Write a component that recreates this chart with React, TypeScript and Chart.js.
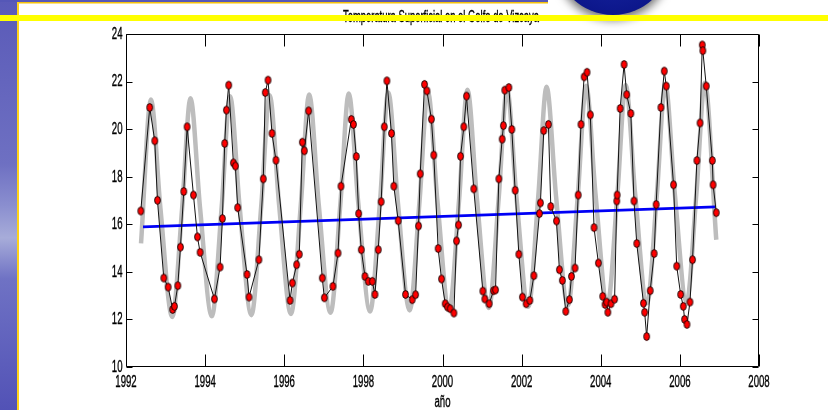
import { useEffect, useRef } from "react";
import { Chart, registerables } from "chart.js";
Chart.register(...registerables);

// Observed monthly sea-surface temperature (decimal year, °C)
const obsYear = [
  1992.374, 1992.6, 1992.727, 1992.795, 1992.955, 1993.065, 1993.18, 1993.225, 1993.31, 1993.376,
  1993.46, 1993.545, 1993.705, 1993.806, 1993.873, 1994.235, 1994.378, 1994.437, 1994.495, 1994.538,
  1994.596, 1994.715, 1994.765, 1994.823, 1995.06, 1995.11, 1995.36, 1995.47, 1995.52, 1995.59,
  1995.69, 1995.79, 1996.146, 1996.205, 1996.313, 1996.38, 1996.457, 1996.508, 1996.617, 1996.962,
  1997.013, 1997.23, 1997.36, 1997.434, 1997.695, 1997.75, 1997.82, 1997.88, 1997.947, 1998.04,
  1998.124, 1998.225, 1998.293, 1998.376, 1998.45, 1998.528, 1998.595, 1998.71, 1998.77, 1998.88,
  1999.066, 1999.235, 1999.32, 1999.394, 1999.437, 1999.546, 1999.606, 1999.72, 1999.78, 1999.89,
  1999.975, 2000.068, 2000.127, 2000.194, 2000.288, 2000.354, 2000.405, 2000.455, 2000.54, 2000.607,
  2000.79, 2001.02, 2001.07, 2001.18, 2001.29, 2001.34, 2001.424, 2001.508, 2001.54, 2001.575,
  2001.677, 2001.752, 2001.836, 2001.93, 2002.02, 2002.114, 2002.207, 2002.31, 2002.45, 2002.475,
  2002.56, 2002.677, 2002.737, 2002.88, 2002.955, 2003.03, 2003.116, 2003.207, 2003.26, 2003.35,
  2003.43, 2003.5, 2003.58, 2003.654, 2003.737, 2003.83, 2003.94, 2004.05, 2004.11, 2004.15,
  2004.18, 2004.26, 2004.35, 2004.405, 2004.415, 2004.49, 2004.59, 2004.656, 2004.76, 2004.84,
  2004.91, 2005.08, 2005.11, 2005.16, 2005.25, 2005.35, 2005.4, 2005.52, 2005.606, 2005.656,
  2005.84, 2005.92, 2006.02, 2006.086, 2006.12, 2006.18, 2006.255, 2006.32, 2006.43, 2006.51,
  2006.566, 2006.58, 2006.667, 2006.82, 2006.84, 2006.92,
];
const obsTemp = [
  16.56, 20.91, 19.51, 17.01, 13.74, 13.36, 12.42, 12.55, 13.42, 15.04,
  17.38, 20.1, 17.23, 15.47, 14.82, 12.86, 14.2, 16.24, 19.4, 20.8,
  21.85, 18.58, 18.45, 16.7, 13.89, 12.94, 14.51, 17.91, 21.54, 22.06,
  19.82, 18.69, 12.8, 13.53, 14.3, 14.74, 19.45, 19.09, 20.77, 13.74,
  12.91, 13.39, 14.79, 17.6, 20.41, 20.2, 18.85, 16.45, 14.93, 13.81,
  13.6, 13.6, 13.05, 14.93, 16.95, 20.1, 22.03, 19.82, 17.6, 16.15,
  13.05, 12.83, 13.04, 15.93, 18.12, 21.88, 21.61, 20.42, 18.91, 14.98,
  13.7, 12.66, 12.52, 12.45, 12.27, 15.3, 15.97, 18.86, 20.1, 21.39,
  17.49, 13.19, 12.86, 12.66, 13.21, 13.24, 17.91, 19.58, 20.15, 21.64,
  21.75, 19.99, 17.43, 14.74, 12.94, 12.66, 12.8, 13.84, 16.45, 16.9,
  19.94, 20.2, 16.75, 16.14, 14.09, 13.64, 12.34, 12.83, 13.81, 14.16,
  17.23, 20.2, 22.2, 22.39, 20.6, 15.86, 14.37, 12.97, 12.63, 12.73,
  12.3, 12.66, 12.85, 16.98, 17.23, 20.87, 22.72, 21.45, 20.66, 16.98,
  15.19, 12.68, 12.3, 11.28, 13.21, 14.77, 16.83, 20.91, 22.44, 21.81,
  17.66, 14.24, 13.05, 12.55, 12.0, 11.79, 12.73, 14.51, 18.68, 20.26,
  23.54, 23.3, 21.81, 18.68, 17.66, 16.49,
];

// Fitted seasonal curve (grey), read at its turning points and mid-slopes
const fitYear = [
  1992.38, 1992.63, 1992.87, 1993.17, 1993.42, 1993.63, 1993.87, 1994.17, 1994.42, 1994.63,
  1994.87, 1995.17, 1995.42, 1995.63, 1995.87, 1996.17, 1996.42, 1996.63, 1996.87, 1997.17,
  1997.42, 1997.63, 1997.87, 1998.17, 1998.42, 1998.63, 1998.87, 1999.17, 1999.42, 1999.63,
  1999.87, 2000.17, 2000.42, 2000.63, 2000.87, 2001.17, 2001.42, 2001.63, 2001.87, 2002.17,
  2002.42, 2002.63, 2002.87, 2003.17, 2003.42, 2003.63, 2003.87, 2004.17, 2004.42, 2004.63,
  2004.87, 2005.17, 2005.42, 2005.63, 2005.87, 2006.17, 2006.42, 2006.63, 2006.92,
];
const fitTemp = [
  15.2, 21.25, 16.68, 12.1, 16.7, 21.3, 16.72, 12.13, 16.76, 21.38,
  16.78, 12.18, 16.8, 21.42, 16.82, 12.23, 16.85, 21.46, 16.87, 12.28,
  16.89, 21.5, 16.91, 12.33, 16.94, 21.54, 16.96, 12.38, 16.98, 21.58,
  17.0, 12.43, 17.04, 21.66, 17.07, 12.48, 17.09, 21.7, 17.12, 12.53,
  17.15, 21.78, 17.18, 12.58, 17.2, 21.82, 17.22, 12.63, 17.25, 21.86,
  17.27, 12.68, 17.29, 21.9, 17.32, 12.74, 17.35, 21.95, 15.35,
];

// Linear trend (blue)
const trendYear = [1992.43, 2006.9];
const trendTemp = [15.89, 16.73];

const xMin = 1992;
const xMax = 2008;
const xStep = 2;
const yMin = 10;
const yMax = 24;
const yStep = 2;

const titleText = "Temperatura Superficial en el Golfo de Vizcaya";
const xTitle = "año";

const FONT = '"Liberation Sans", Arial, sans-serif';

function scaledText(ctx: CanvasRenderingContext2D, text: string, x: number, y: number, align: CanvasTextAlign, sx: number) {
  ctx.save();
  ctx.translate(x, y);
  ctx.scale(sx, 1);
  ctx.textAlign = align;
  ctx.fillText(text, 0, 0);
  ctx.lineWidth = 0.35;
  ctx.strokeStyle = "#000";
  ctx.strokeText(text, 0, 0);
  ctx.restore();
}

const decoPlugin = {
  id: "deco",
  beforeDraw(chart: any) {
    const ctx: CanvasRenderingContext2D = chart.ctx;
    const W = chart.width;
    const H = chart.height;
    ctx.save();
    ctx.fillStyle = "#ffffff";
    ctx.fillRect(0, 0, W, H);

    // left strip
    const g = ctx.createLinearGradient(0, 0, 0, H);
    g.addColorStop(0, "#5a5ab8");
    g.addColorStop(0.4, "#6e70c2");
    g.addColorStop(0.5, "#8a8ecf");
    g.addColorStop(0.58, "#a7acd9");
    g.addColorStop(0.68, "#6f72c4");
    g.addColorStop(1, "#5252b6");
    ctx.fillStyle = g;
    ctx.fillRect(0, 0, 17, H);

    // top band
    ctx.fillStyle = "#5557b7";
    ctx.fillRect(0, 0, 548, 2);
    ctx.fillStyle = "#f4c20d";
    ctx.fillRect(17, 2, 531, 1.5);

    // vertical yellow rule
    ctx.fillStyle = "#ffd21a";
    ctx.fillRect(17, 2, 2, H);

    // blue disc with shadow
    ctx.save();
    ctx.shadowColor = "rgba(0,0,0,0.55)";
    ctx.shadowBlur = 10;
    ctx.shadowOffsetY = 5;
    const rg = ctx.createRadialGradient(613, -50, 5, 613, -43, 58);
    rg.addColorStop(0, "#1a2aa8");
    rg.addColorStop(1, "#0c168a");
    ctx.fillStyle = rg;
    ctx.beginPath();
    ctx.arc(613, -43, 58, 0, Math.PI * 2);
    ctx.fill();
    ctx.restore();

    // title
    ctx.fillStyle = "#000";
    ctx.font = `16px ${FONT}`;
    ctx.textBaseline = "alphabetic";
    const tw = ctx.measureText(titleText).width;
    scaledText(ctx, titleText, 441, 21.5, "center", 196 / tw);

    // yellow horizontal band
    ctx.fillStyle = "#ffff00";
    ctx.fillRect(0, 15, W, 6);
    ctx.restore();
  },
  afterDatasetsDraw(chart: any) {
    const ctx: CanvasRenderingContext2D = chart.ctx;
    const xs = chart.scales.x;
    const ys = chart.scales.y;
    const { left, right, top, bottom } = chart.chartArea;
    ctx.save();
    ctx.strokeStyle = "#000";
    ctx.lineWidth = 1;
    const L = Math.round(left) + 0.5;
    const R = Math.round(right) - 0.5;
    const T = Math.round(top) + 0.5;
    const B = Math.round(bottom) - 0.5;
    ctx.beginPath();
    ctx.rect(L, T, R - L, B - T);
    ctx.stroke();

    ctx.beginPath();
    xs.ticks.forEach((t: any) => {
      const px = Math.round(xs.getPixelForValue(t.value)) + 0.5;
      ctx.moveTo(px, B);
      ctx.lineTo(px, B - 12);
      ctx.moveTo(px, T);
      ctx.lineTo(px, T + 12);
    });
    ys.ticks.forEach((t: any) => {
      const py = Math.round(ys.getPixelForValue(t.value)) + 0.5;
      ctx.moveTo(L, py);
      ctx.lineTo(L + 6, py);
      ctx.moveTo(R, py);
      ctx.lineTo(R - 6, py);
    });
    ctx.stroke();

    ctx.fillStyle = "#000";
    ctx.font = `16px ${FONT}`;
    ctx.textBaseline = "alphabetic";
    xs.ticks.forEach((t: any) => {
      const px = xs.getPixelForValue(t.value);
      scaledText(ctx, String(t.label), px, 387, "center", 0.6);
    });
    ctx.textBaseline = "middle";
    ys.ticks.forEach((t: any) => {
      const py = ys.getPixelForValue(t.value);
      scaledText(ctx, String(t.label), left - 3.5, py + 0.5, "right", 0.6);
    });
    ctx.textBaseline = "alphabetic";
    scaledText(ctx, xTitle, (left + right) / 2, 406.5, "center", 0.6);
    ctx.restore();
  },
};

function makePointImage(): HTMLCanvasElement {
  const c = document.createElement("canvas");
  c.width = 9;
  c.height = 11;
  const g = c.getContext("2d")!;
  g.beginPath();
  g.ellipse(4.5, 5.5, 2.9, 3.9, 0, 0, Math.PI * 2);
  g.fillStyle = "#ff0000";
  g.fill();
  g.lineWidth = 0.9;
  g.strokeStyle = "#000";
  g.stroke();
  return c;
}

export default function App() {
  const ref = useRef<HTMLCanvasElement | null>(null);
  useEffect(() => {
    if (!ref.current) return;
    const pointImg = makePointImage();
    const chart = new Chart(ref.current, {
      type: "scatter",
      data: {
        datasets: [
          {
            data: obsYear.map((x, i) => ({ x, y: obsTemp[i] })),
            showLine: true,
            borderColor: "#111111",
            borderWidth: 1,
            pointStyle: pointImg as any,
            pointRadius: 4,
          },
          {
            data: trendYear.map((x, i) => ({ x, y: trendTemp[i] })),
            showLine: true,
            borderColor: "#0000f5",
            borderWidth: 2.7,
            pointRadius: 0,
          },
          {
            data: fitYear.map((x, i) => ({ x, y: fitTemp[i] })),
            showLine: true,
            borderColor: "#bdbdbd",
            borderWidth: 4.5,
            pointRadius: 0,
            cubicInterpolationMode: "monotone",
          },
        ],
      },
      options: {
        responsive: false,
        animation: false,
        events: [],
        layout: { padding: { left: 0, right: 69, top: 34, bottom: 0 } },
        plugins: { legend: { display: false }, tooltip: { enabled: false }, title: { display: false } },
        scales: {
          x: {
            type: "linear",
            min: xMin,
            max: xMax,
            ticks: { display: false, stepSize: xStep, callback: (v: any) => String(v) },
            grid: { display: false },
            border: { display: false },
            afterFit: (s: any) => {
              s.height = 43;
            },
          },
          y: {
            type: "linear",
            min: yMin,
            max: yMax,
            ticks: { display: false, stepSize: yStep, callback: (v: any) => String(v) },
            grid: { display: false },
            border: { display: false },
            afterFit: (s: any) => {
              s.width = 126;
            },
          },
        },
      },
      plugins: [decoPlugin],
    });
    return () => chart.destroy();
  }, []);
  return (
    <div style={{ position: "fixed", left: 0, top: 0, width: 828, height: 410 }}>
      <canvas ref={ref} width={828} height={410} style={{ display: "block" }} />
    </div>
  );
}
